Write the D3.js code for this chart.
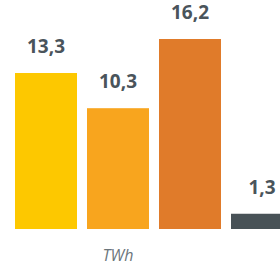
<!DOCTYPE html>
<html>
<head>
<meta charset="utf-8">
<script src="https://cdn.jsdelivr.net/npm/d3@7"></script>
<style>
  html, body { margin: 0; padding: 0; background: #fff; overflow: hidden; }
</style>
</head>
<body>
<script>
const categories = ["a", "b", "c", "d"];
const values = [13.3, 10.3, 16.2, 1.3];
const labels = ["13,3", "10,3", "16,2", "1,3"];
const colors = ["#fdc800", "#f8a51e", "#e07b2a", "#485257"];
const unit = "TWh";

const width = 280, height = 269;

const x = d3.scaleBand()
    .domain(categories)
    .range([15, 293])
    .paddingInner(10 / 72)
    .paddingOuter(0);

const y = d3.scaleLinear()
    .domain([0, 16.2])
    .range([229, 39]);

const svg = d3.select("body").append("svg")
    .attr("width", width)
    .attr("height", height)
    .style("font-family", "'Open Sans', sans-serif");

svg.selectAll("rect")
  .data(values)
  .enter().append("rect")
    .attr("x", (d, i) => x(categories[i]))
    .attr("y", d => y(d))
    .attr("width", x.bandwidth())
    .attr("height", d => y(0) - y(d))
    .attr("fill", (d, i) => colors[i]);

svg.selectAll("text.val")
  .data(values)
  .enter().append("text")
    .attr("class", "val")
    .attr("x", (d, i) => x(categories[i]) + x.bandwidth() / 2)
    .attr("y", d => y(d) - 20)
    .attr("text-anchor", "middle")
    .attr("fill", "#4a545b")
    .style("font-size", "19px")
    .style("font-weight", "bold")
    .text((d, i) => labels[i]);

svg.append("text")
    .attr("x", (x(categories[0]) + x(categories[2]) + x.bandwidth()) / 2)
    .attr("y", 261)
    .attr("text-anchor", "middle")
    .attr("fill", "#6b757b")
    .style("font-size", "16px")
    .style("font-style", "italic")
    .text(unit);
</script>
</body>
</html>
